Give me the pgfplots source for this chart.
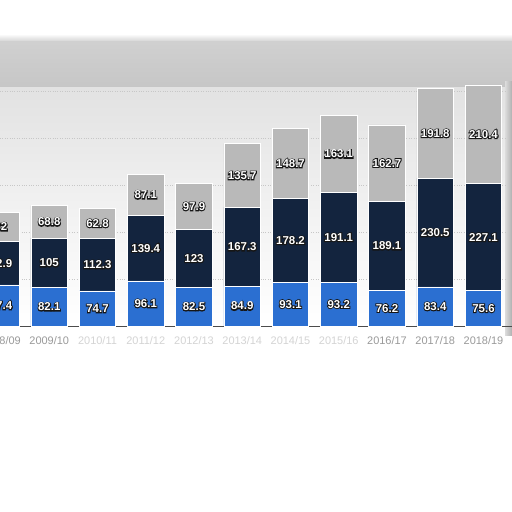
\documentclass[border=0pt]{standalone}
\usepackage{pgfplots}
\pgfplotsset{compat=1.18}
\usepackage{pgfplotstable}
\usepackage{fontspec}
\setmainfont{Liberation Sans}

\definecolor{cblue}{HTML}{2B6FD1}
\definecolor{cnavy}{HTML}{13243E}
\definecolor{cgray}{HTML}{B9B9B9}
\definecolor{outl}{HTML}{161616}
\definecolor{tick}{HTML}{9A9A9A}
\definecolor{smear}{HTML}{D4D4D4}

% blue / navy / gray segments per season
\pgfplotstableread{
k  blue  navy   gray
0  87.4  92.9   62
1  82.1  105    68.8
2  74.7  112.3  62.8
3  96.1  139.4  87.1
4  82.5  123    97.9
5  84.9  167.3  135.7
6  93.1  178.2  148.7
7  93.2  191.1  163.1
8  76.2  189.1  162.7
9  83.4  230.5  191.8
10 75.6  227.1  210.4
}\data

% label heights: middle of each segment
\pgfplotstablecreatecol[create col/expr={\thisrow{blue}/2}]{mb}\data
\pgfplotstablecreatecol[create col/expr={\thisrow{blue}+\thisrow{navy}/2}]{mn}\data
\pgfplotstablecreatecol[create col/expr={\thisrow{blue}+\thisrow{navy}+\thisrow{gray}/2}]{mg}\data

% white text on a thick dark stroked copy
\newcommand\outl[1]{%
  \makebox[0pt]{\special{pdf:literal direct 2 Tr 1.8 w 0.09 0.09 0.09 RG}%
    \textcolor{outl}{#1}\special{pdf:literal direct 0 Tr}}%
  \makebox[0pt]{\textcolor{white}{#1}}}

\pgfplotsset{
  common/.style={
    at={(0,0)}, anchor=south west,
    scale only axis, width=512bp, height=512bp,
    xmin=-0.0207, xmax=10.591,
    ymin=-395.7, ymax=693.6,
  },
}

\begin{document}
\begin{tikzpicture}
\path[use as bounding box] (0,0) rectangle (512bp,512bp);
\clip (0,0) rectangle (512bp,512bp);

% washed-out backdrop of the photographed chart
\begin{scope}[x=1bp,y=1bp]
  \fill[white] (0,0) rectangle (512,512);
  \shade[top color=white, bottom color={rgb,255:red,208;green,208;blue,208}] (0,470) rectangle (512,478);
  \shade[top color={rgb,255:red,208;green,208;blue,208}, bottom color={rgb,255:red,198;green,198;blue,198}] (0,424) rectangle (512,470);
  \shade[top color={rgb,255:red,226;green,226;blue,226}, bottom color={rgb,255:red,242;green,242;blue,242}] (0,300) rectangle (512,424);
  \shade[top color={rgb,255:red,242;green,242;blue,242}, bottom color=white] (0,186) rectangle (512,300);
  \shade[left color={rgb,255:red,220;green,220;blue,220}, right color={rgb,255:red,176;green,176;blue,176}] (505,176) rectangle (512,430);
  \foreach \g in {421,374,327,280,233}
    \draw[black!22, dotted] (0,\g) -- (505,\g);
\end{scope}

\begin{axis}[common,
    ybar stacked, bar width=36.5bp,
    axis y line=none,
    axis x line*=middle,
    x axis line style={draw=black!70, line width=0.8pt},
    xtick={0,...,11},
    xticklabels={2008/09,2009/10,\textcolor{smear}{2010/11},\textcolor{smear}{2011/12},
      \textcolor{smear}{2012/13},\textcolor{smear}{2013/14},\textcolor{smear}{2014/15},
      \textcolor{smear}{2015/16},2016/17,2017/18,2018/19,2019/20},
    major tick length=0pt,
    xticklabel style={font=\fontsize{11}{13}\selectfont, text=tick, anchor=center, yshift=-15bp},
    clip=false,
  ]
  \addplot[fill=cblue, draw=white, line width=0.6pt] table[x=k, y=blue] {\data};
  \addplot[fill=cnavy, draw=white, line width=0.6pt] table[x=k, y=navy] {\data};
  \addplot[fill=cgray, draw=white, line width=0.6pt] table[x=k, y=gray] {\data};
\end{axis}

\begin{axis}[common, hide axis,
    nodes near coords={\outl{\pgfplotspointmeta}},
    every node near coord/.append style={anchor=center,
      font=\fontsize{11.5}{13}\selectfont\bfseries},
    point meta=explicit symbolic,
  ]
  \addplot[draw=none, mark=none] table[x=k, y=mb, meta=blue] {\data};
  \addplot[draw=none, mark=none] table[x=k, y=mn, meta=navy] {\data};
  \addplot[draw=none, mark=none] table[x=k, y=mg, meta=gray] {\data};
\end{axis}
\end{tikzpicture}
\end{document}
